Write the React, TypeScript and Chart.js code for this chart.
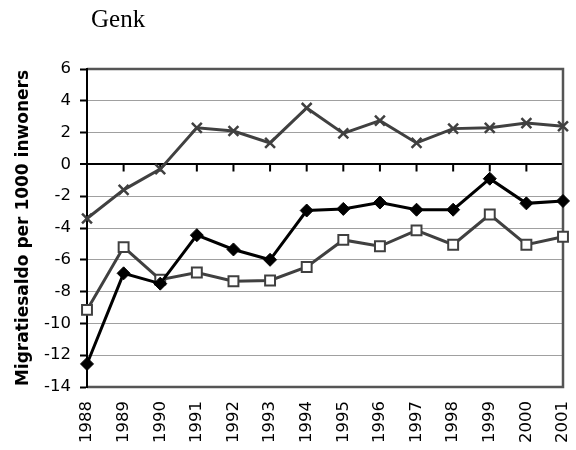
import React, { useEffect, useRef } from "react";
import { Chart, registerables } from "chart.js";

Chart.register(...registerables);

const titleText = "Genk";
const yAxisTitle = "Migratiesaldo per 1000 inwoners";
const years = ["1988", "1989", "1990", "1991", "1992", "1993", "1994", "1995", "1996", "1997", "1998", "1999", "2000", "2001"];
const seriesCross = [-3.4, -1.6, -0.3, 2.3, 2.1, 1.35, 3.55, 1.95, 2.75, 1.35, 2.25, 2.3, 2.6, 2.4];
const seriesDiamond = [-12.55, -6.85, -7.5, -4.45, -5.35, -6.0, -2.9, -2.8, -2.4, -2.85, -2.85, -0.9, -2.45, -2.3];
const seriesSquare = [-9.15, -5.2, -7.25, -6.8, -7.35, -7.3, -6.45, -4.75, -5.15, -4.15, -5.05, -3.15, -5.05, -4.55];
const yMin = -14;
const yMax = 6;
const yStep = 2;

const framePlugin = {
  id: "frame",
  beforeDatasetsDraw(chart: any) {
    const { ctx, chartArea, scales } = chart;
    const { left, right, top, bottom } = chartArea;
    ctx.save();
    const y0 = scales.y.getPixelForValue(0);
    ctx.strokeStyle = "#000";
    ctx.lineWidth = 2;
    ctx.beginPath();
    years.forEach((_, i) => {
      const x = scales.x.getPixelForValue(i);
      ctx.moveTo(x, y0);
      ctx.lineTo(x, y0 + 7);
    });
    ctx.stroke();
    ctx.strokeStyle = "#555";
    ctx.lineWidth = 2.5;
    ctx.beginPath();
    ctx.moveTo(left, top);
    ctx.lineTo(right, top);
    ctx.lineTo(right, bottom);
    ctx.lineTo(left, bottom);
    ctx.stroke();
    ctx.strokeStyle = "#000";
    ctx.lineWidth = 2;
    ctx.beginPath();
    ctx.moveTo(left, top - 1);
    ctx.lineTo(left, bottom + 1);
    ctx.stroke();
    ctx.restore();
  },
  afterDraw(chart: any) {
    const { ctx } = chart;
    ctx.save();
    ctx.fillStyle = "#000";
    ctx.font = '25px "Liberation Serif"';
    ctx.textAlign = "left";
    ctx.textBaseline = "alphabetic";
    ctx.fillText(titleText, 91, 26.5);
    ctx.restore();
  },
};

export default function App() {
  const ref = useRef<HTMLCanvasElement>(null);
  useEffect(() => {
    const canvas = ref.current;
    if (!canvas) return;
    const chart = new Chart(canvas, {
      type: "line",
      data: {
        labels: years,
        datasets: [
          {
            label: "cross",
            data: seriesCross,
            borderColor: "#404040",
            backgroundColor: "#404040",
            borderWidth: 3,
            pointStyle: "crossRot",
            pointRadius: 7,
            pointBorderWidth: 2.5,
            pointBorderColor: "#404040",
            tension: 0,
            clip: false,
          },
          {
            label: "diamond",
            data: seriesDiamond,
            borderColor: "#000",
            backgroundColor: "#000",
            borderWidth: 3,
            pointStyle: "rectRot",
            pointRadius: 6.5,
            pointBorderWidth: 1,
            pointBorderColor: "#000",
            pointBackgroundColor: "#000",
            tension: 0,
            clip: false,
          },
          {
            label: "square",
            data: seriesSquare,
            borderColor: "#404040",
            backgroundColor: "#fff",
            borderWidth: 3,
            pointStyle: "rect",
            pointRadius: 7,
            pointBorderWidth: 2,
            pointBorderColor: "#404040",
            pointBackgroundColor: "#fff",
            tension: 0,
            clip: false,
          },
        ],
      },
      options: {
        responsive: false,
        animation: false,
        layout: { padding: { left: 9, top: 69, right: 13, bottom: 0 } },
        plugins: {
          legend: { display: false },
          title: { display: false },
          tooltip: { enabled: false },
        },
        scales: {
          x: {
            type: "category",
            offset: false,
            grid: { display: false, drawTicks: false },
            border: { display: false },
            ticks: {
              color: "#000",
              font: { family: '"DejaVu Sans"', size: 16.5 },
              minRotation: 90,
              maxRotation: 90,
              padding: 14,
              autoSkip: false,
            },
            afterFit: (scale: any) => {
              scale.height = 63;
              scale.paddingLeft = 0;
              scale.paddingRight = 0;
            },
          },
          y: {
            min: yMin,
            max: yMax,
            ticks: {
              stepSize: yStep,
              color: "#000",
              font: { family: '"DejaVu Sans"', size: 16.5 },
              padding: 9,
            },
            grid: {
              color: (c: any) => (c.tick && c.tick.value === 0 ? "#000" : "#a0a0a0"),
              lineWidth: (c: any) => (c.tick && c.tick.value === 0 ? 2 : 1),
              tickColor: "#000",
              tickLength: 7,
              tickWidth: 2,
            },
            border: { display: true, color: "#000", width: 2 },
            title: {
              display: true,
              text: yAxisTitle,
              color: "#000",
              font: { family: '"DejaVu Sans"', size: 17, weight: "bold" },
              padding: 4,
            },
            afterFit: (scale: any) => {
              scale.width = 78;
              scale.paddingTop = 0;
              scale.paddingBottom = 0;
            },
          },
        },
      },
      plugins: [framePlugin],
    });
    return () => chart.destroy();
  }, []);
  return (
    <div style={{ position: "fixed", left: 0, top: 0, width: 576, height: 450, background: "#fff" }}>
      <canvas ref={ref} width={576} height={450} style={{ display: "block" }} />
    </div>
  );
}
